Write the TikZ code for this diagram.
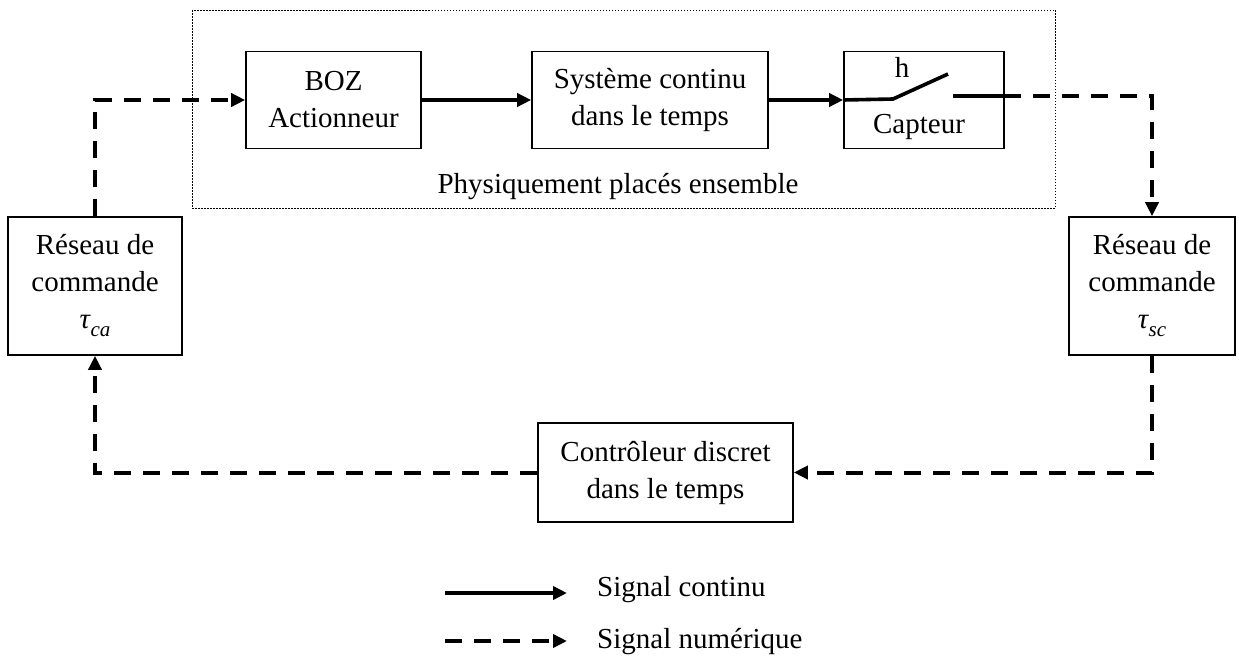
\documentclass[tikz,border=0pt]{standalone}
\usepackage{fontspec}
\setmainfont{Liberation Serif}
\usetikzlibrary{arrows.meta}
\newcommand{\tausub}[1]{{\itshape τ\kern0.5pt\raisebox{-8pt}{\fontsize{21}{21}\selectfont #1}}}
\begin{document}
\begin{tikzpicture}[x=1pt,y=-1pt,
  every node/.style={font=\fontsize{29}{37}\selectfont},
  blockbox/.style={draw,line width=1.6pt,inner sep=0pt,align=center},
  txt/.style={inner sep=0pt,align=center},
  arr/.style={line width=3.6pt,-{Triangle[length=14pt,width=13pt]}},
  sline/.style={line width=3.6pt},
  darr/.style={line width=4pt,dash pattern=on 17pt off 12pt,-{Triangle[length=14pt,width=13pt]}}]
\useasboundingbox (0,0) rectangle (1239,662);
% dotted group
\draw[line width=0.9pt,dash pattern=on 1.5pt off 1.5pt] (192,10) rectangle (1055,208);
\node[txt,anchor=base] (grp) at (618,193) {Physiquement placés ensemble};
% blocks
\node[blockbox,minimum width=175pt,minimum height=97pt] (boz) at (333.5,100) {BOZ\\Actionneur};
\node[blockbox,minimum width=236pt,minimum height=97pt] (sys) at (650,100) {Système continu\\dans le temps};
\node[blockbox,minimum width=160pt,minimum height=97pt] (cap) at (924,100) {};
\node[txt,anchor=base] (h) at (902,77) {h};
\node[txt,anchor=base] (capt) at (919,133) {Capteur};
\node[blockbox,minimum width=174pt,minimum height=138pt] (resL) at (95,286) {Réseau de\\commande\\\tausub{ca}};
\node[blockbox,minimum width=166pt,minimum height=138pt] (resR) at (1152,286) {Réseau de\\commande\\\tausub{sc}};
\node[blockbox,minimum width=255pt,minimum height=99pt] (ctrl) at (665.5,472.5) {Contrôleur discret\\dans le temps};
% switch
\coordinate (sw1) at (893,99);
\coordinate (sw2) at (948,74);
\coordinate (sw3) at (953,96);
\coordinate (sw4) at (1004,96);
% connectors
\draw[arr] (boz.east) -- (sys.west);
\draw[arr] (sys.east) -- (cap.west);
\draw[sline] (cap.west) -- (sw1) -- (sw2);
\draw[sline] (sw3) -- (sw4);
\draw[darr] (sw4) -| (resR.north);
\draw[darr] (resR.south) |- (ctrl.east);
\draw[darr] (ctrl.west) -| (resL.south);
\draw[darr] (resL.north) |- (boz.west);
% legend
\coordinate (la) at (445,593);
\coordinate (lb) at (567,593);
\coordinate (lc) at (445,641);
\coordinate (ld) at (567,641);
\draw[arr] (la) -- (lb);
\draw[darr] (lc) -- (ld);
\node[txt,anchor=base west] (lt1) at (597,596) {Signal continu};
\node[txt,anchor=base west] (lt2) at (597,648) {Signal numérique};
\end{tikzpicture}
\end{document}
